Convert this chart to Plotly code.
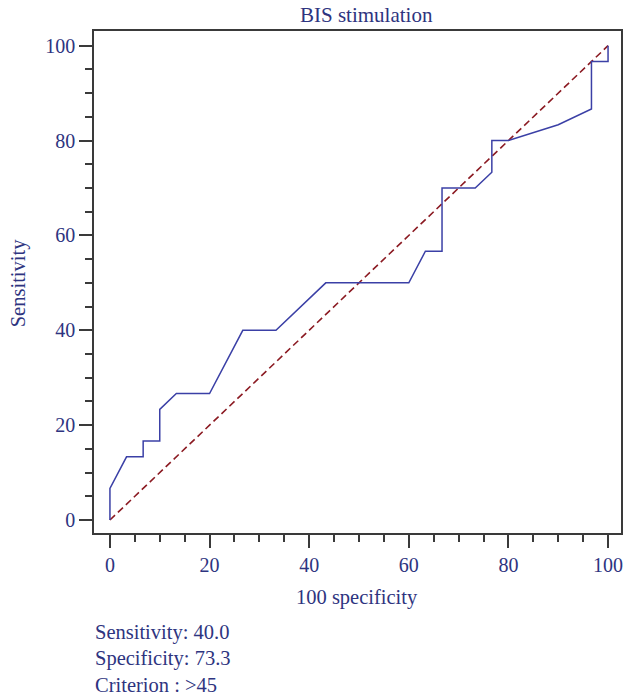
import plotly.graph_objects as go

# ROC curve data (100 - specificity, sensitivity)
fpr = [0, 0, 3.33, 6.67, 6.67, 10, 10, 13.33, 20, 26.67, 33.33, 43.33, 60,
       63.33, 66.67, 66.67, 73.33, 76.67, 76.67, 80, 90, 96.67, 96.67, 100, 100]
tpr = [0, 6.67, 13.33, 13.33, 16.67, 16.67, 23.33, 26.67, 26.67, 40, 40, 50, 50,
       56.67, 56.67, 70, 70, 73.33, 80, 80, 83.33, 86.67, 96.67, 96.67, 100]
ref_x = [0, 100]
ref_y = [0, 100]

title_text = "BIS stimulation"
x_title = "100 specificity"
y_title = "Sensitivity"
stats_lines = ["Sensitivity: 40.0", "Specificity: 73.3", "Criterion : >45"]

TXT = "#2e3480"
FONT = "Liberation Serif"

fig = go.Figure()
fig.add_trace(go.Scatter(x=ref_x, y=ref_y, mode="lines",
                         line=dict(color="#8b1a22", width=1.6, dash="7px,4px"),
                         hoverinfo="skip"))
fig.add_trace(go.Scatter(x=fpr, y=tpr, mode="lines",
                         line=dict(color="#3b40a6", width=1.5)))

axis_common = dict(showline=True, linecolor="#3a3a3a", linewidth=1.5, mirror=True,
                   ticks="outside", ticklen=13, tickwidth=1.5, tickcolor="#3a3a3a",
                   showgrid=False, zeroline=False,
                   tickfont=dict(family=FONT, size=20, color=TXT),
                   minor=dict(dtick=5, ticks="outside", ticklen=7, tickwidth=1.5,
                              tickcolor="#3a3a3a", showgrid=False))

fig.update_xaxes(range=[-3.2, 102.6], tick0=0, dtick=20, **axis_common)
fig.update_yaxes(range=[-2.74, 103.1], tick0=0, dtick=20, **axis_common)

annotations = [
    dict(text=title_text, x=368, y=15, size=21),
    dict(text=x_title, x=357.5, y=597, size=20.5),
    dict(text=y_title, x=18, y=283, textangle=-90, size=20.5),
]
for i, s in enumerate(stats_lines):
    annotations.append(dict(text=s, x=93, y=632 + i * 26.5, xanchor="left", size=20.5))

l, r, t, b = 94, 3, 31, 163
pw = 626 - l - r
ph = 696 - t - b
anns = []
for a in annotations:
    d = dict(xref="paper", yref="paper", showarrow=False,
             font=dict(family=FONT, size=a["size"], color=TXT),
             xanchor=a.get("xanchor", "center"), yanchor="middle",
             text=a["text"], textangle=a.get("textangle", 0))
    d["x"] = (a["x"] - l) / pw
    d["y"] = (696 - b - a["y"]) / ph
    anns.append(d)

fig.update_layout(width=626, height=696, showlegend=False,
                  margin=dict(l=l, r=r, t=t, b=b),
                  plot_bgcolor="white", paper_bgcolor="white",
                  annotations=anns)

fig.write_html("out.html", config={"displayModeBar": False},
               post_script="document.body.style.margin='0';")
